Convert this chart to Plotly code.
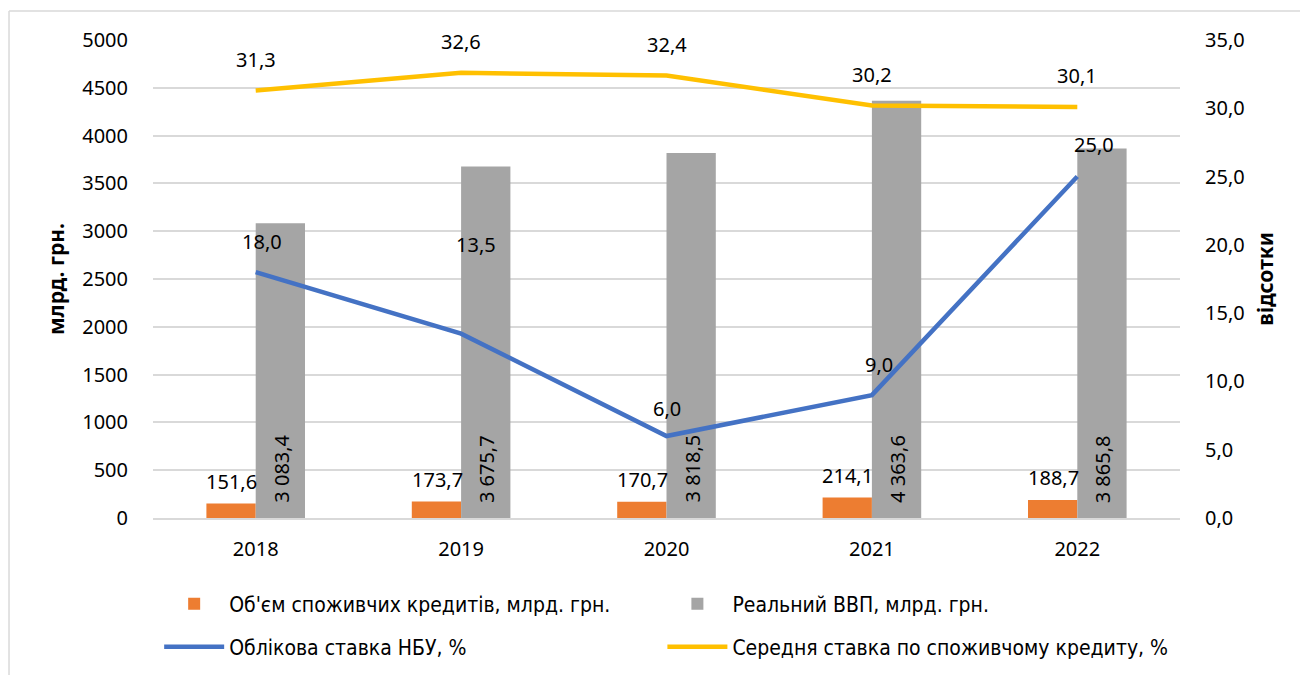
import plotly.graph_objects as go

years = ["2018", "2019", "2020", "2021", "2022"]
credit_volume = [151.6, 173.7, 170.7, 214.1, 188.7]
real_gdp = [3083.4, 3675.7, 3818.5, 4363.6, 3865.8]
nbu_rate = [18.0, 13.5, 6.0, 9.0, 25.0]
avg_credit_rate = [31.3, 32.6, 32.4, 30.2, 30.1]

left_ticks = [0, 500, 1000, 1500, 2000, 2500, 3000, 3500, 4000, 4500, 5000]
right_ticks = [0, 5, 10, 15, 20, 25, 30, 35]

def ua(v, dec=1):
    s = f"{v:,.{dec}f}"
    return s.replace(",", " ").replace(".", ",")

NUM_FONT = "Noto Sans"
TXT_FONT = "DejaVu Sans Condensed, Noto Sans, sans-serif"
FS = 20

fig = go.Figure()
fig.add_trace(go.Bar(
    x=years, y=credit_volume, name="Об'єм споживчих кредитів, млрд. грн.",
    marker=dict(color="#ED7D31", line=dict(width=0)), yaxis="y", legend="legend", showlegend=True,
))
fig.add_trace(go.Bar(
    x=years, y=real_gdp, name="Реальний ВВП, млрд. грн.",
    marker=dict(color="#A5A5A5", line=dict(width=0)), yaxis="y", legend="legend2", showlegend=True,
))
fig.add_trace(go.Scatter(
    x=years, y=nbu_rate, name="Облікова ставка НБУ, %", mode="lines",
    line=dict(color="#4472C4", width=4.5), yaxis="y2", legend="legend3", showlegend=True,
))
fig.add_trace(go.Scatter(
    x=years, y=avg_credit_rate, name="Середня ставка по споживчому кредиту, %", mode="lines",
    line=dict(color="#FFC000", width=4.5), yaxis="y2", legend="legend4", showlegend=True,
))

lab_font = dict(family=NUM_FONT, size=FS, color="#000")
ann = []
for i, v in enumerate(avg_credit_rate):
    ann.append(dict(x=i, y=v, xref="x", yref="y2", text=ua(v), showarrow=False, yshift=31, font=lab_font))
nbu_shift = [(6, 31), (15, 89), (0, 28), (7, 31), (17, 32)]
for i, (v, (dx, dy)) in enumerate(zip(nbu_rate, nbu_shift)):
    ann.append(dict(x=i, y=v, xref="x", yref="y2", text=ua(v), showarrow=False, xshift=dx, yshift=dy, font=lab_font))
for i, v in enumerate(credit_volume):
    ann.append(dict(x=i, y=v, xref="x", yref="y", text=ua(v), showarrow=False, xshift=-24, yshift=22, font=lab_font))
for i, v in enumerate(real_gdp):
    ann.append(dict(x=i, y=0, xref="x", yref="y", text=ua(v), showarrow=False, xshift=25, yshift=13,
                    yanchor="bottom", textangle=-90, font=lab_font))

leg_font = dict(family=TXT_FONT, size=21, color="#000")
def leg(x, y):
    return dict(orientation="h", x=x, y=y, xanchor="left", yanchor="top", itemwidth=60,
                font=leg_font, bgcolor="rgba(0,0,0,0)", visible=True)

fig.update_layout(
    width=1300, height=667,
    showlegend=True,
    margin=dict(l=145, r=128, t=32, b=157, autoexpand=False),
    paper_bgcolor="white", plot_bgcolor="white",
    barmode="group", bargap=0.52, bargroupgap=0,
    annotations=ann,
    font=dict(family=NUM_FONT, size=FS, color="#000"),
    xaxis=dict(type="category", range=[-0.5, 4.5], showgrid=False, showline=True, linecolor="#D9D9D9", linewidth=1.5,
               ticks="outside", ticklen=12, tickcolor="rgba(0,0,0,0)",
               tickfont=dict(family=NUM_FONT, size=FS, color="#000")),
    yaxis=dict(range=[0, 5000], tickvals=left_ticks, ticktext=[str(t) for t in left_ticks],
               showgrid=True, gridcolor="#D9D9D9", gridwidth=1.5, zeroline=False,
               ticks="outside", ticklen=20, tickcolor="rgba(0,0,0,0)",
               tickfont=dict(family=NUM_FONT, size=FS, color="#000"),
               title=dict(text="<b>млрд. грн.</b>", font=dict(family=NUM_FONT, size=21, color="#000"), standoff=11)),
    yaxis2=dict(range=[0, 35], overlaying="y", side="right", tickvals=right_ticks,
                ticktext=[ua(t) for t in right_ticks], showgrid=False, zeroline=False,
                ticks="outside", ticklen=20, tickcolor="rgba(0,0,0,0)",
                tickfont=dict(family=NUM_FONT, size=FS, color="#000"),
                title=dict(text="<b>відсотки</b>", font=dict(family=NUM_FONT, size=21, color="#000"), standoff=14)),
    legend=leg(0.006, -0.137),
    legend2=leg(0.496, -0.137),
    legend3=leg(0.006, -0.227),
    legend4=leg(0.496, -0.227),
    shapes=[
        dict(type="line", xref="paper", yref="paper", x0=-0.1402, x1=-0.1402, y0=-0.5, y1=1.0607,
             line=dict(color="#D9D9D9", width=1.5), layer="below"),
        dict(type="line", xref="paper", yref="paper", x0=-0.1402, x1=1.3, y0=1.0607, y1=1.0607,
             line=dict(color="#D9D9D9", width=1.5), layer="below"),
    ],
)

fig.write_html("out.html")
